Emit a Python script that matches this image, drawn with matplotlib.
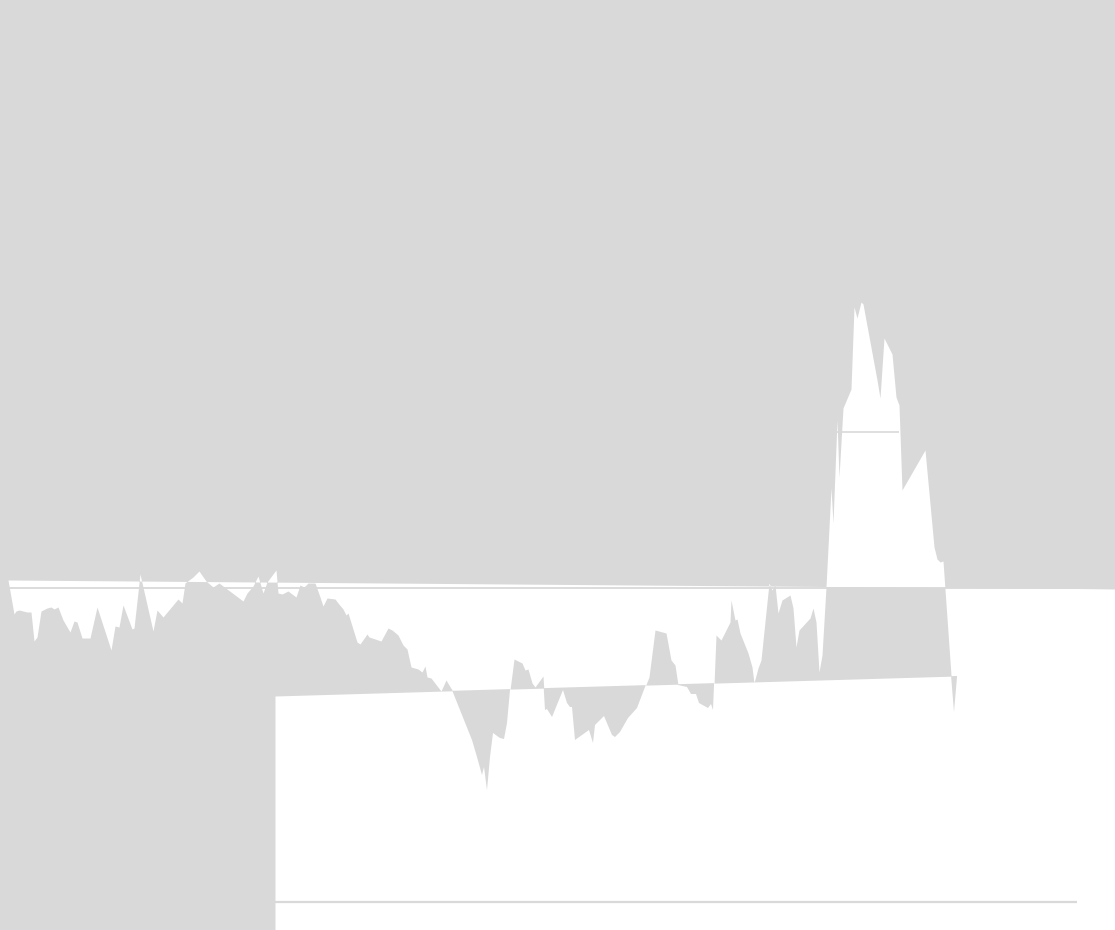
import matplotlib
matplotlib.use("Agg")
import matplotlib.pyplot as plt
import numpy as np

GREY = '#d9d9d9'

# series (x position, level; the level axis runs downward)
serie_x = [8, 14, 16, 19, 27, 31, 34, 37, 41, 47, 51, 54, 58, 63, 70, 74, 77, 82, 90, 97,
           111, 115, 119, 123, 132, 134, 140, 153, 157, 163, 173, 178, 182, 185, 193, 199,
           206, 213, 219, 243, 247, 253, 258, 263, 267, 276, 278, 282, 288, 296, 300, 304,
           308, 315, 320, 323, 327, 335, 338, 343, 346, 348, 357, 360, 367, 369, 381, 388,
           392, 398, 403, 407, 411, 418, 422, 425, 427, 431, 441, 446, 452, 472, 477, 482,
           484, 487, 490, 493, 500, 504, 507, 510, 514, 522, 525, 528, 532, 535, 543, 545,
           547, 552, 563, 567, 570, 572, 575, 589, 593, 595, 604, 612, 615, 620, 628, 637,
           645, 649, 655, 666, 671, 675, 678, 687, 691, 696, 699, 708, 711, 713, 716, 721,
           730, 731, 735, 737, 740, 748, 752, 754, 758, 761, 769, 772, 775, 778, 782, 790,
           793, 796, 799, 810, 813, 816, 819, 822, 826, 831, 833, 837, 839, 843, 851, 854,
           857, 861, 863, 877, 880, 884, 892, 896, 899, 902, 925, 934, 937, 940, 943, 951,
           954, 957]
serie_y = [580, 614, 611, 610, 612, 612, 641, 637, 611, 608, 607, 609, 607, 620, 632, 621, 622, 638, 638, 607,
           650, 626, 627, 605, 629, 628, 574, 631, 610, 617, 605, 599, 603, 583, 577, 571,
           581, 587, 583, 601, 593, 586, 576, 593, 582, 570, 593, 594, 591, 597, 585, 587,
           583, 583, 597, 606, 598, 599, 603, 609, 615, 613, 642, 644, 634, 637, 641, 628,
           630, 635, 645, 649, 667, 669, 672, 666, 677, 678, 691, 680, 690, 740, 757, 775,
           767, 790, 757, 733, 738, 739, 723, 690, 659, 663, 670, 669, 683, 687, 676, 710,
           709, 717, 690, 703, 707, 707, 740, 730, 743, 725, 716, 735, 737, 732, 718, 708,
           687, 677, 630, 633, 660, 665, 685, 687, 694, 694, 703, 708, 704, 710, 635, 640,
           622, 600, 620, 619, 633, 653, 667, 683, 668, 660, 583, 590, 585, 613, 600, 595,
           608, 647, 630, 618, 608, 622, 672, 655, 587, 488, 523, 420, 477, 408, 389, 307,
           318, 302, 304, 380, 398, 338, 354, 397, 405, 490, 450, 547, 559, 562, 561, 675,
           712, 677]

# upper edge of the band and the sloped base line
top_x = [8, 1077, 1115]
top_y = [580, 588.5, 589]
base_x = [275, 957]
base_y = [696, 676]

fig = plt.figure(figsize=(11.15, 9.3), dpi=100, facecolor=GREY)
ax = fig.add_axes([0, 0, 1, 1])
ax.set_xlim(0, 1115)
ax.set_ylim(930, 0)
ax.axis('off')

x = np.array(serie_x, dtype=float)
d = np.array(serie_y, dtype=float)
t = np.interp(x, top_x, top_y)

# right of the series only the band is left (starts a bit early so no seam shows)
xr = np.array([954, 1077, 1115], dtype=float)
ax.fill_between(xr, np.interp(xr, top_x, top_y), 930, color='white', lw=0)

# band between the top edge and the series
ax.fill_between(x, d, t, color='white', lw=0)

# below the base line
ax.fill_between(base_x, base_y, 930, color='white', lw=0)

# where the series drops under the base line the two overlap again
sel = x >= base_x[0]
xs = x[sel]
ds = d[sel]
bs = np.interp(xs, base_x, base_y)
ax.fill_between(xs, ds, bs, where=ds > bs, interpolate=True, color=GREY, lw=0)

# thin lines
ax.plot([8, 1077], [588, 588], color=GREY, lw=1.3, solid_capstyle='butt')
ax.plot([275, 1077], [901.5, 901.5], color=GREY, lw=1.6, solid_capstyle='butt')
ax.plot([836, 899], [432, 432], color=GREY, lw=1.2, solid_capstyle='butt')

fig.savefig('out.png', dpi=100, facecolor=fig.get_facecolor())
